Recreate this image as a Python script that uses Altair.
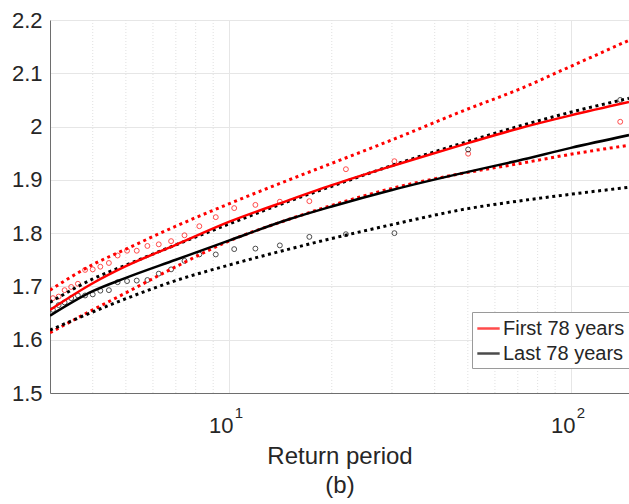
import altair as alt
import pandas as pd

# ---- data ----
T_pts = [139.5, 50.1, 30.5, 22.0, 17.2, 14.1, 11.96, 10.37, 9.16, 8.20, 7.42, 6.78, 6.24,
         5.78, 5.38, 5.04, 4.73, 4.46, 4.21, 4.00, 3.80, 3.62, 3.46, 3.31, 3.18, 3.06]
red_pts = [2.009, 1.949, 1.935, 1.920, 1.860, 1.859, 1.853, 1.847, 1.830, 1.813, 1.796, 1.785, 1.779,
           1.776, 1.767, 1.767, 1.758, 1.744, 1.737, 1.732, 1.731, 1.705, 1.699, 1.693, 1.681, 1.678]
black_pts = [2.050, 1.957, 1.800, 1.798, 1.793, 1.777, 1.771, 1.770, 1.760, 1.760, 1.748, 1.732, 1.724,
             1.712, 1.711, 1.710, 1.708, 1.693, 1.692, 1.685, 1.683, 1.683, 1.678, 1.670, 1.665, 1.656]

T_curve = [3, 4, 5, 7, 10, 15, 20, 30, 50, 70, 100, 148]
red_fit = [1.656, 1.706, 1.738, 1.778, 1.821, 1.862, 1.890, 1.926, 1.969, 1.996, 2.021, 2.046]
red_hi = [1.693, 1.741, 1.770, 1.813, 1.855, 1.900, 1.931, 1.975, 2.033, 2.069, 2.113, 2.162]
red_lo = [1.613, 1.656, 1.688, 1.737, 1.785, 1.826, 1.852, 1.884, 1.914, 1.930, 1.948, 1.965]
black_fit = [1.645, 1.691, 1.716, 1.750, 1.786, 1.826, 1.850, 1.881, 1.915, 1.936, 1.960, 1.984]
black_hi = [1.670, 1.714, 1.740, 1.778, 1.817, 1.860, 1.888, 1.927, 1.972, 2.000, 2.027, 2.053]
black_lo = [1.618, 1.652, 1.677, 1.711, 1.740, 1.770, 1.790, 1.816, 1.846, 1.860, 1.873, 1.886]

series_names = ["First 78 years", "Last 78 years"]
series_colors = ["#ff0000", "#000000"]

x_major = [10, 100]
x_minor = [4, 5, 6, 7, 8, 9, 20, 30, 40, 50, 60, 70, 80, 90]
y_ticks = [1.5, 1.6, 1.7, 1.8, 1.9, 2.0, 2.1, 2.2]
sup_df = pd.DataFrame({"T": x_major, "sup": ["1", "2"]})

# ---- tables ----
fit_rows, band_rows, pt_rows = [], [], []
for name, col, fit, hi, lo, pts in [
    (series_names[0], series_colors[0], red_fit, red_hi, red_lo, red_pts),
    (series_names[1], series_colors[1], black_fit, black_hi, black_lo, black_pts),
]:
    for t, f, h, l in zip(T_curve, fit, hi, lo):
        fit_rows.append({"T": t, "v": f, "series": name})
        band_rows.append({"T": t, "v": h, "key": name + " hi", "col": col})
        band_rows.append({"T": t, "v": l, "key": name + " lo", "col": col})
    for t, v in zip(T_pts, pts):
        pt_rows.append({"T": t, "v": v, "col": col})

fit_df = pd.DataFrame(fit_rows)
band_df = pd.DataFrame(band_rows)
pt_df = pd.DataFrame(pt_rows)
minor_df = pd.DataFrame({"T": x_minor})

W, H = 579, 373
FONT = "Liberation Sans"
TXT = "#262626"

xscale = alt.Scale(type="log", domain=[3, 148], nice=False)
yscale = alt.Scale(domain=[1.5, 2.2], nice=False, zero=False)

xaxis = alt.Axis(
    values=x_major, labelExpr="'10'", grid=True, gridColor="#e6e6e6",
    ticks=False, tickSize=0, domainColor="#6e6e6e",
    labelFontSize=22, labelBaseline="alphabetic", labelPadding=39, labelOffset=-8,
    labelColor=TXT, labelFont=FONT,
    title=["Return period", "(b)"], titleFontSize=24, titleFontWeight="normal",
    titleFont=FONT, titleColor=TXT, titleBaseline="alphabetic",
    titleX=W / 2, titleY=70, titleAlign="center", titleLineHeight=29,
)
yaxis = alt.Axis(
    values=y_ticks, labelExpr="round(datum.value*10)/10 + ''", grid=True,
    gridColor="#e6e6e6", ticks=False, tickSize=0, domainColor="#6e6e6e",
    labelFontSize=22, labelPadding=8, labelColor=TXT, labelFont=FONT, title=None,
)

X = alt.X("T:Q", scale=xscale, axis=xaxis)
Y = alt.Y("v:Q", scale=yscale, axis=yaxis)

minor = alt.Chart(minor_df).mark_rule(color="#e0e0e0", strokeDash=[1, 2], strokeWidth=1).encode(
    x=X, y=alt.value(0), y2=alt.value(H)
)

sups = alt.Chart(sup_df).mark_text(
    align="left", baseline="alphabetic", fontSize=15, font=FONT, color=TXT, dx=6
).encode(x=X, y=alt.value(H + 25), text="sup:N")

points = alt.Chart(pt_df).mark_point(shape="circle", filled=False, size=24, strokeWidth=1, clip=True).encode(
    x=X, y=Y, color=alt.Color("col:N", scale=None)
)

bands = alt.Chart(band_df).mark_line(
    strokeDash=[3, 3.6], strokeWidth=3, strokeCap="butt", interpolate="monotone", clip=True
).encode(x=X, y=Y, color=alt.Color("col:N", scale=None), detail="key:N")

fits = alt.Chart(fit_df).mark_line(strokeWidth=2.5, interpolate="monotone", clip=True).encode(
    x=X, y=Y,
    color=alt.Color(
        "series:N",
        scale=alt.Scale(domain=series_names, range=series_colors),
        legend=alt.Legend(
            title=None, orient="none", legendX=422, legendY=292,
            symbolType="stroke", symbolSize=500, symbolStrokeWidth=2.5,
            labelFontSize=20, labelFont=FONT, labelColor=TXT, labelOffset=2,
            fillColor="white", strokeColor="#9a9a9a", padding=4, rowPadding=2,
            cornerRadius=0,
        ),
    ),
)

chart = (
    alt.layer(minor, sups, points, bands, fits)
    .properties(width=W, height=H, padding={"left": 50, "top": 20, "right": 0, "bottom": 111},
                autosize="none", background="white")
    .configure_view(stroke=None)
)

chart.save("out.html", embed_options={"renderer": "svg", "actions": False})
